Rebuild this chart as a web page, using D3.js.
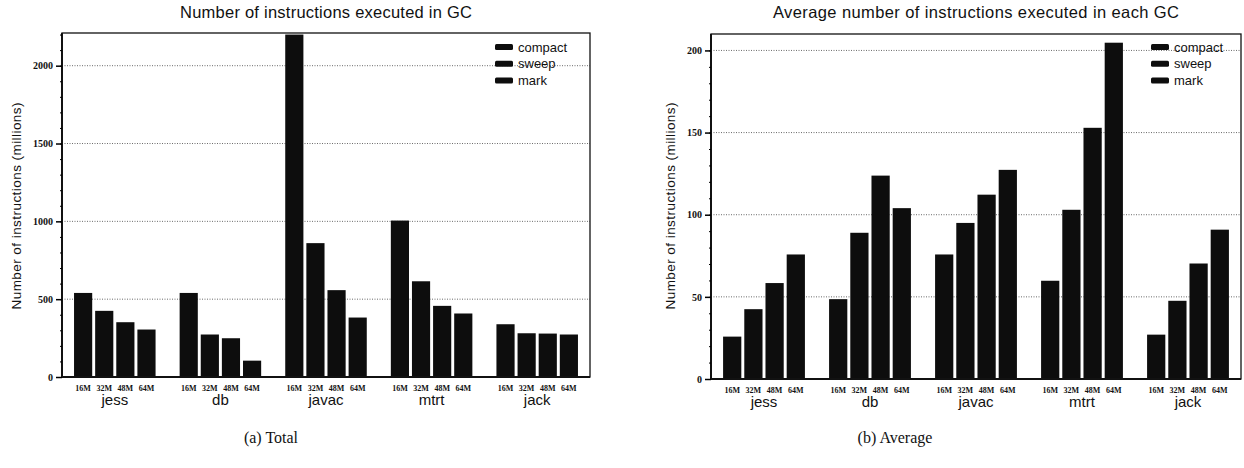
<!DOCTYPE html>
<html>
<head>
<meta charset="utf-8">
<script src="https://cdn.jsdelivr.net/npm/d3@7"></script>
<style>
  body { margin: 0; background: #fff; }
  svg { display: block; }
  .title { font-family: "Liberation Sans", Arial, sans-serif; font-size: 16.5px; fill: #111; }
  .ylab { font-family: "Liberation Sans", Arial, sans-serif; font-size: 13.5px; fill: #111; }
  .ytick text { font-family: "Liberation Serif", serif; font-size: 10px; font-weight: bold; fill: #111; }
  .size text { font-family: "Liberation Serif", serif; font-size: 8px; font-weight: bold; fill: #111; }
  .group text { font-family: "Liberation Sans", Arial, sans-serif; font-size: 15px; fill: #111; }
  .legend text { font-family: "Liberation Sans", Arial, sans-serif; font-size: 13px; fill: #111; }
  .caption { font-family: "Liberation Serif", serif; font-size: 16px; fill: #111; }
</style>
</head>
<body>
<svg id="fig" width="1244" height="468"></svg>
<script>
// benchmarks and heap sizes
var benchmarks = ['jess', 'db', 'javac', 'mtrt', 'jack'];
var heapSizes = ['16M', '32M', '48M', '64M'];
var legendNames = ['compact', 'sweep', 'mark'];

// (a) total instructions executed in GC (millions), per benchmark, per heap size
var totalJess  = [540, 425, 352, 305];
var totalDb    = [540, 273, 249, 105];
var totalJavac = [2200, 860, 558, 382];
var totalMtrt  = [1005, 615, 457, 408];
var totalJack  = [339, 281, 279, 273];

// (b) average instructions per GC (millions)
var avgJess  = [25.8, 42.5, 58.4, 75.8];
var avgDb    = [48.6, 89, 123.8, 104];
var avgJavac = [75.8, 95, 112.2, 127.3];
var avgMtrt  = [59.8, 103, 152.9, 204.7];
var avgJack  = [27, 47.6, 70.3, 90.9];

var totalTicks = [0, 500, 1000, 1500, 2000];
var avgTicks = [0, 50, 100, 150, 200];

var svg = d3.select('#fig');

function drawPanel(opt) {
  var g = svg.append('g');
  var rows = [];
  benchmarks.forEach(function(b, i) {
    heapSizes.forEach(function(h, j) {
      rows.push({bench: b, size: h, value: opt.values[i][j]});
    });
  });

  var x0 = d3.scaleBand().domain(benchmarks).range([opt.left, opt.right]);
  var x1 = d3.scaleBand().domain(heapSizes).range([0, x0.bandwidth()])
    .paddingInner(0.14).paddingOuter(0.57);
  var y = d3.scaleLinear().domain([0, opt.max]).range([opt.bottom, opt.top]);

  // dotted grid
  g.selectAll('.grid').data(opt.ticks.slice(1)).enter().append('line')
    .attr('x1', opt.left).attr('x2', opt.right)
    .attr('y1', function(d) { return y(d); }).attr('y2', function(d) { return y(d); })
    .attr('stroke', '#444').attr('stroke-width', 0.8).attr('stroke-dasharray', '1,1.5');

  // bars
  g.selectAll('.bar').data(rows).enter().append('rect')
    .attr('x', function(d) { return x0(d.bench) + x1(d.size); })
    .attr('y', function(d) { return y(Math.min(d.value, opt.max)); })
    .attr('width', x1.bandwidth())
    .attr('height', function(d) { return opt.bottom - y(Math.min(d.value, opt.max)); })
    .attr('fill', '#0d0d0d');

  // frame
  g.append('rect')
    .attr('x', opt.left).attr('y', opt.top)
    .attr('width', opt.right - opt.left).attr('height', opt.bottom - opt.top)
    .attr('fill', 'none').attr('stroke', '#111').attr('stroke-width', 1.3);
  g.append('line').attr('x1', opt.left).attr('x2', opt.right)
    .attr('y1', opt.bottom).attr('y2', opt.bottom)
    .attr('stroke', '#111').attr('stroke-width', 2);
  g.append('line').attr('x1', opt.left).attr('x2', opt.left)
    .attr('y1', opt.top).attr('y2', opt.bottom)
    .attr('stroke', '#111').attr('stroke-width', 2);

  // y axis, minor ticks
  var minor = d3.range(0, opt.max, opt.minorStep);
  g.append('g').attr('class', 'ytick')
    .attr('transform', 'translate(' + opt.left + ',0)')
    .call(d3.axisLeft(y).tickValues(minor).tickSize(2).tickFormat(''))
    .call(function(a) { a.select('.domain').remove(); });

  // y axis, major ticks
  g.append('g').attr('class', 'ytick')
    .attr('transform', 'translate(' + opt.left + ',0)')
    .call(d3.axisLeft(y).tickValues(opt.ticks).tickSize(6).tickPadding(3).tickFormat(d3.format('d')))
    .call(function(a) {
      a.select('.domain').remove();
      a.selectAll('line').attr('stroke-width', 1.5);
    });

  // heap size labels
  benchmarks.forEach(function(b) {
    g.append('g').attr('class', 'size')
      .attr('transform', 'translate(' + x0(b) + ',' + opt.bottom + ')')
      .call(d3.axisBottom(x1).tickSize(0).tickPadding(8))
      .call(function(a) { a.select('.domain').remove(); });
  });

  // benchmark labels
  g.append('g').attr('class', 'group')
    .attr('transform', 'translate(0,' + opt.bottom + ')')
    .call(d3.axisBottom(x0).tickSize(0).tickPadding(17))
    .call(function(a) { a.select('.domain').remove(); });

  // title
  g.append('text').attr('class', 'title')
    .attr('x', (opt.left + opt.right) / 2).attr('y', 18)
    .attr('text-anchor', 'middle')
    .attr('textLength', opt.titleLen).attr('lengthAdjust', 'spacing')
    .text(opt.title);

  // y label
  g.append('text').attr('class', 'ylab')
    .attr('transform', 'translate(' + opt.ylabX + ',206) rotate(-90)')
    .attr('text-anchor', 'middle')
    .attr('textLength', 207).attr('lengthAdjust', 'spacing')
    .text('Number of instructions (millions)');

  // legend
  var lg = g.selectAll('.legend').data(legendNames).enter().append('g')
    .attr('class', 'legend')
    .attr('transform', function(d, i) { return 'translate(' + opt.legendX + ',' + (47 + i * 16.7) + ')'; });
  lg.append('rect').attr('x', 0).attr('y', -3).attr('width', 18).attr('height', 6)
    .attr('rx', 1.5).attr('fill', '#0d0d0d');
  lg.append('text').attr('x', 23).attr('y', 4.5).text(function(d) { return d; });

  // caption
  g.append('text').attr('class', 'caption')
    .attr('x', opt.captionX).attr('y', 443).attr('text-anchor', 'middle')
    .text(opt.caption);
}

drawPanel({
  values: [totalJess, totalDb, totalJavac, totalMtrt, totalJack],
  ticks: totalTicks, max: 2210, minorStep: 100,
  left: 62, right: 590, top: 33, bottom: 377,
  title: 'Number of instructions executed in GC', titleLen: 292,
  ylabX: 21, legendX: 495, captionX: 271, caption: '(a) Total'
});

drawPanel({
  values: [avgJess, avgDb, avgJavac, avgMtrt, avgJack],
  ticks: avgTicks, max: 210, minorStep: 10,
  left: 711, right: 1241, top: 34, bottom: 379,
  title: 'Average number of instructions executed in each GC', titleLen: 406,
  ylabX: 675, legendX: 1151, captionX: 895, caption: '(b) Average'
});
</script>
</body>
</html>
